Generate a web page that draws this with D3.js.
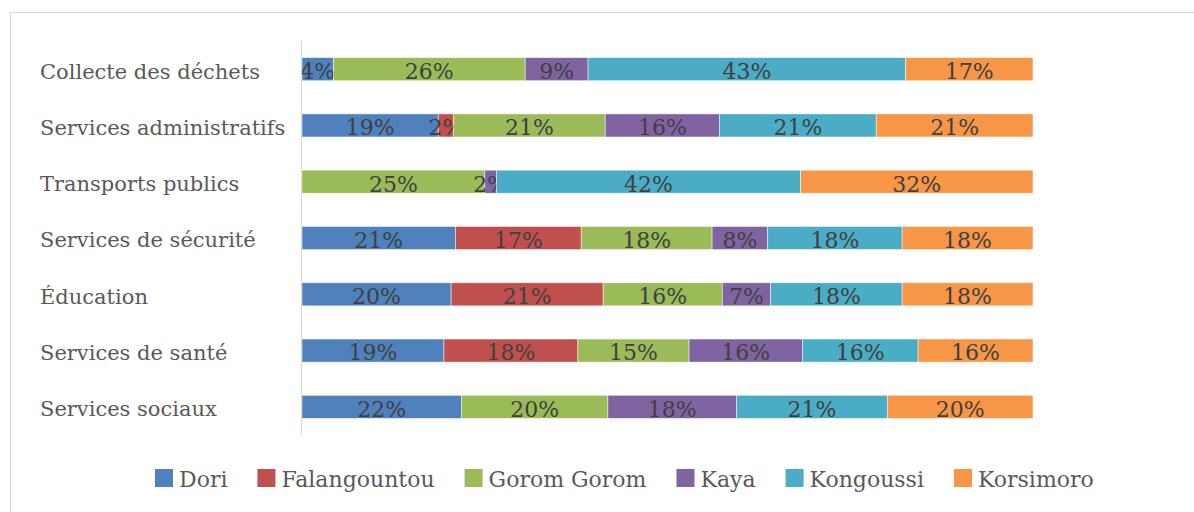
<!DOCTYPE html>
<html>
<head>
<meta charset="utf-8">
<script src="https://cdn.jsdelivr.net/npm/d3@7"></script>
<style>
  body { margin: 0; background: #fff; }
  text { font-family: "DejaVu Serif", serif; }
</style>
</head>
<body>
<script>
const w = 1194, h = 512;

// categories, top to bottom
const categories = [
  "Collecte des déchets",
  "Services administratifs",
  "Transports publics",
  "Services de sécurité",
  "Éducation",
  "Services de santé",
  "Services sociaux"
];
const cities = ["Dori", "Falangountou", "Gorom Gorom", "Kaya", "Kongoussi", "Korsimoro"];
const colors = ["#4F81BD", "#C0504D", "#9BBB59", "#8064A2", "#4BACC6", "#F79646"];

// shares (%) per city, in category order
const dori         = [4.3, 18.6, 0,    21.0, 20.4, 19.4, 21.8];
const falangountou = [0,   2.1,  0,    17.2, 20.8, 18.3, 0];
const goromGorom   = [26.2, 20.7, 25.0, 17.9, 16.3, 15.2, 20.0];
const kaya         = [8.6, 15.6, 1.6,  7.6,  6.6,  15.5, 17.6];
const kongoussi    = [43.4, 21.4, 41.6, 18.4, 18.0, 15.8, 20.6];
const korsimoro    = [17.4, 21.4, 31.8, 17.9, 17.9, 15.7, 19.9];

const series = [dori, falangountou, goromGorom, kaya, kongoussi, korsimoro];
const table = categories.map((c, i) => {
  const row = { cat: c };
  cities.forEach((k, j) => (row[k] = series[j][i]));
  return row;
});

const svg = d3.select("body").append("svg").attr("width", w).attr("height", h);

// frame
svg.append("rect")
  .attr("x", 10.5).attr("y", 12.5)
  .attr("width", w).attr("height", h)
  .attr("fill", "none").attr("stroke", "#d9d9d9");

const x = d3.scaleLinear().domain([0, 1]).range([302, 1033]);
const y = d3.scaleBand().domain(categories).range([41, 435])
  .paddingInner(0.59).paddingOuter(0.295);
const color = d3.scaleOrdinal().domain(cities).range(colors);

const stacked = d3.stack().keys(cities).offset(d3.stackOffsetExpand)(table);

const layers = svg.selectAll("g.layer")
  .data(stacked)
  .enter()
  .append("g")
  .attr("class", "layer")
  .attr("fill", (d) => color(d.key));

layers.selectAll("rect")
  .data((d) => d)
  .enter()
  .append("rect")
  .filter((d) => d[1] - d[0] > 0)
  .attr("x", (d) => x(d[0]))
  .attr("y", (d) => y(d.data.cat))
  .attr("width", (d) => x(d[1]) - x(d[0]))
  .attr("height", y.bandwidth())
  .attr("stroke", "#ffffff")
  .attr("stroke-opacity", 0.6)
  .attr("stroke-width", 0.8);

// data labels
layers.each(function (layer) {
  d3.select(this)
    .selectAll("text")
    .data(layer.filter((d) => d[1] - d[0] > 0))
    .enter()
    .append("text")
    .attr("x", (d) => (x(d[0]) + x(d[1])) / 2)
    .attr("y", (d) => y(d.data.cat) + y.bandwidth() / 2)
    .attr("dy", "0.45em")
    .attr("text-anchor", "middle")
    .attr("fill", "#404040")
    .style("font-size", "22px")
    .text((d) => Math.round(d.data[layer.key]) + "%");
});

// y axis line
svg.append("line")
  .attr("x1", 301.5).attr("x2", 301.5)
  .attr("y1", 41).attr("y2", 435)
  .attr("stroke", "#d9d9d9");

// category labels
svg.selectAll("text.cat")
  .data(categories)
  .enter()
  .append("text")
  .attr("class", "cat")
  .attr("x", 40)
  .attr("y", (d) => y(d) + y.bandwidth() / 2)
  .attr("dy", "0.45em")
  .attr("fill", "#595959")
  .style("font-size", "21px")
  .text((d) => d);

// legend
const legend = svg.append("g").attr("transform", "translate(155,478)");
let lx = 0;
cities.forEach((c) => {
  const item = legend.append("g").attr("transform", "translate(" + lx + ",0)");
  item.append("rect")
    .attr("x", 0).attr("y", -9)
    .attr("width", 18).attr("height", 18)
    .attr("fill", color(c));
  const t = item.append("text")
    .attr("x", 24).attr("y", 0)
    .attr("dy", "0.41em")
    .attr("fill", "#595959")
    .style("font-size", "22px")
    .text(c);
  lx += 24 + t.node().getComputedTextLength() + 30;
});
</script>
</body>
</html>
